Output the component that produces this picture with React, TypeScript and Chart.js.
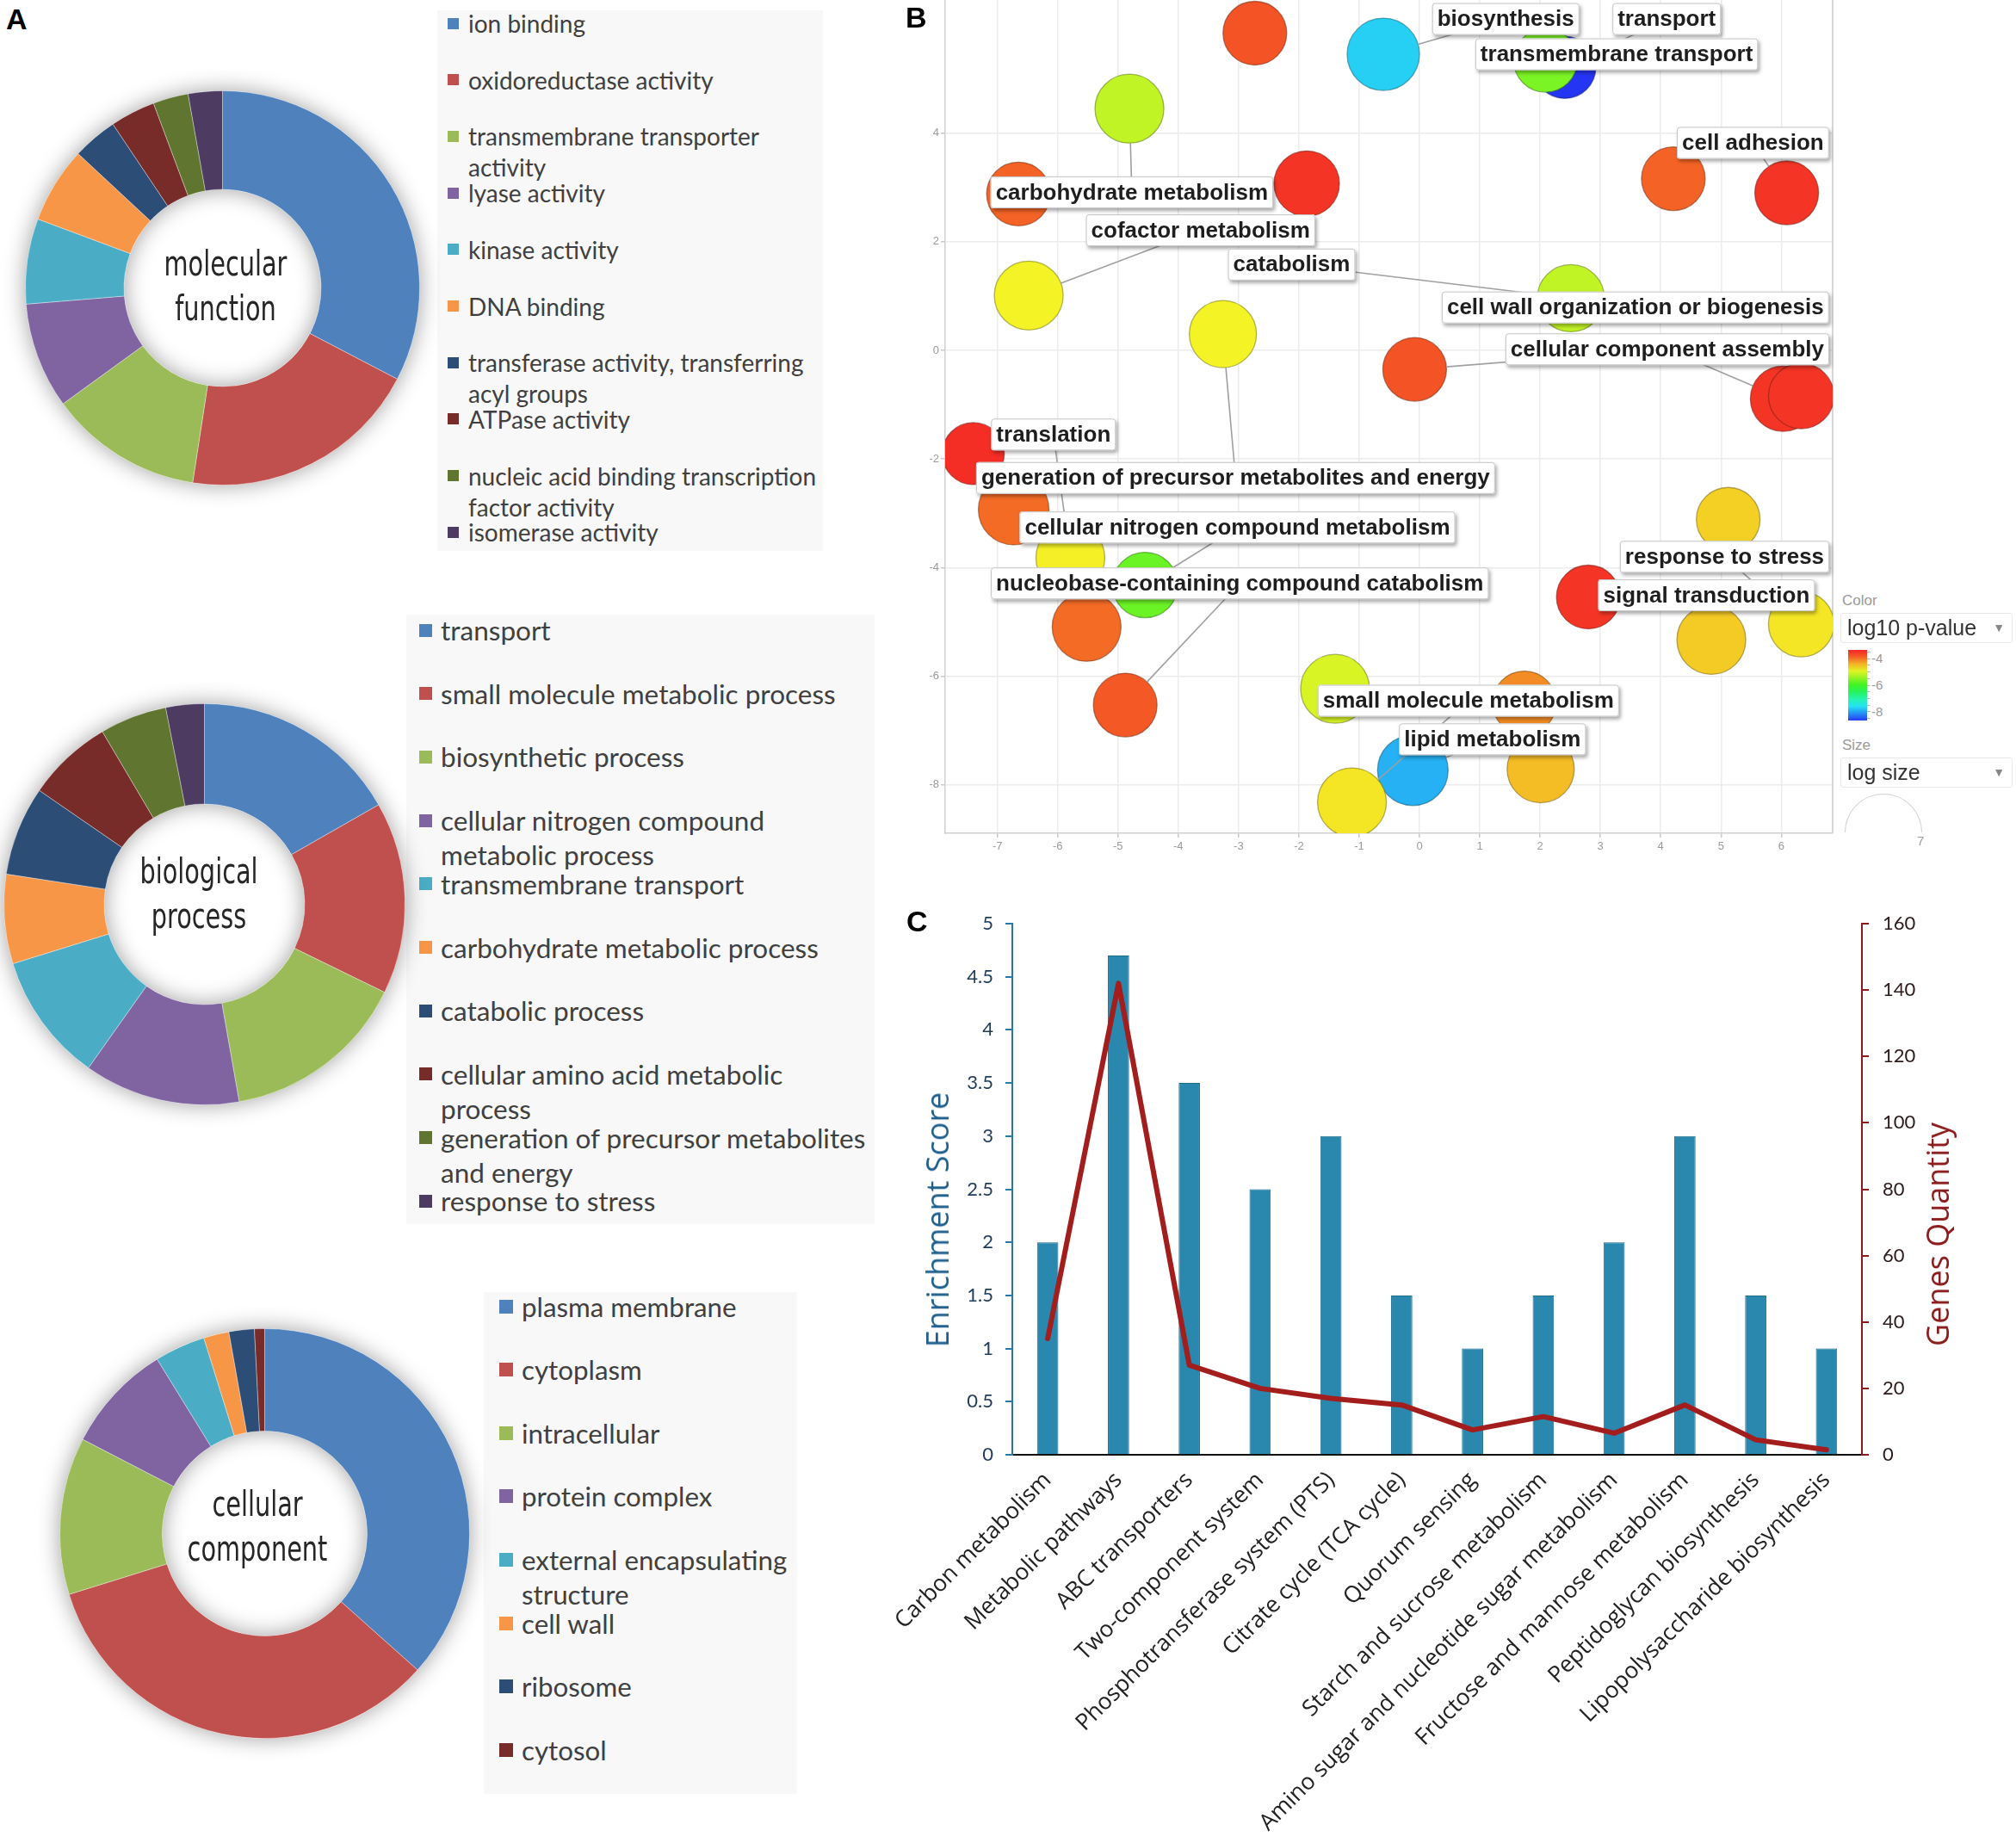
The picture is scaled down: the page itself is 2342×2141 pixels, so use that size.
import React, { useEffect, useRef } from 'react';
import { Chart, registerables } from 'chart.js';

Chart.register(...registerables);

// ---------------- Panel A data ----------------
const officeColors = ['#4f81bd', '#c0504d', '#9bbb59', '#8064a2', '#4bacc6', '#f79646', '#2c4d75', '#772c2a', '#5f7530', '#4d3b62'];

const mfCategories = [
  'ion binding',
  'oxidoreductase activity',
  'transmembrane transporter\nactivity',
  'lyase activity',
  'kinase activity',
  'DNA binding',
  'transferase activity, transferring\nacyl groups',
  'ATPase activity',
  'nucleic acid binding transcription\nfactor activity',
  'isomerase activity',
];
const mfValues = [32.7, 19.8, 12.6, 8.7, 7.0, 6.25, 3.7, 3.7, 2.9, 2.8];

const bpCategories = [
  'transport',
  'small molecule metabolic process',
  'biosynthetic process',
  'cellular nitrogen compound\nmetabolic process',
  'transmembrane transport',
  'carbohydrate metabolic process',
  'catabolic process',
  'cellular amino acid metabolic\nprocess',
  'generation of precursor metabolites\nand energy',
  'response to stress',
];
const bpValues = [16.75, 15.5, 15.0, 12.6, 10.4, 7.2, 7.2, 6.9, 5.4, 3.1];

const ccCategories = [
  'plasma membrane',
  'cytoplasm',
  'intracellular',
  'protein complex',
  'external encapsulating\nstructure',
  'cell wall',
  'ribosome',
  'cytosol',
];
const ccValues = [36.6, 33.6, 12.4, 8.6, 4.0, 2.0, 2.0, 0.8];

// ---------------- Panel B data ----------------
const goX = [-2.73, -0.6, 2.41, 2.09, -4.81, -6.65, -1.87, 4.21, 6.09, -6.48, -3.26, 2.51, -0.08, 6.03, 6.33, -7.4, -6.73, -5.79, -4.55, -5.52, -4.88, -1.4, 1.74, 2.01, -0.11, -1.12, 5.12, 2.8, 4.84, 6.33];
const goY = [5.84, 5.45, 5.21, 5.34, 4.45, 2.88, 3.07, 3.16, 2.9, 1.01, 0.3, 0.96, -0.35, -0.89, -0.84, -1.9, -2.93, -3.82, -4.32, -5.09, -6.53, -6.23, -6.49, -7.71, -7.73, -8.32, -3.11, -4.54, -5.33, -5.04];
const goSize = [37, 42, 36, 37, 40, 37, 38, 37, 37, 40, 39, 39, 37, 38, 38, 36, 41, 40, 38, 40, 37, 40, 37, 39, 41, 40, 37, 37, 40, 38];
const goLogP = [-3.8, -7.7, -8.7, -5.6, -5.15, -3.9, -3.6, -3.9, -3.6, -4.82, -4.82, -5.15, -3.8, -3.6, -3.6, -3.55, -3.95, -4.8, -5.7, -3.95, -3.83, -5.0, -4.16, -4.47, -7.9, -4.74, -4.6, -3.6, -4.56, -4.74];

const goLabels = [
  'biosynthesis',
  'transport',
  'transmembrane transport',
  'cell adhesion',
  'carbohydrate metabolism',
  'cofactor metabolism',
  'catabolism',
  'cell wall organization or biogenesis',
  'cellular component assembly',
  'translation',
  'generation of precursor metabolites and energy',
  'cellular nitrogen compound metabolism',
  'nucleobase-containing compound catabolism',
  'response to stress',
  'signal transduction',
  'small molecule metabolism',
  'lipid metabolism',
];
const goLabelX = [1.43, 4.1, 3.27, 5.53, -4.77, -3.63, -2.12, 3.58, 4.11, -6.07, -3.05, -3.02, -2.98, 5.06, 4.76, 0.81, 1.21];
const goLabelY = [6.1, 6.1, 5.45, 3.82, 2.91, 2.21, 1.58, 0.79, 0.02, -1.55, -2.35, -3.26, -4.29, -3.8, -4.51, -6.45, -7.16];
const goLabelTargets = [[1], [2], [3], [8], [4], [9], [11], [11], [12, 13], [17], [10], [18], [20], [29], [27], [25], [24]];
const goXTicks = [-7, -6, -5, -4, -3, -2, -1, 0, 1, 2, 3, 4, 5, 6];
const goYTicks = [-8, -6, -4, -2, 0, 2, 4];
const colorBarTicks = [-4, -6, -8];

// ---------------- Panel C data ----------------
const keggPathways = [
  'Carbon metabolism',
  'Metabolic pathways',
  'ABC transporters',
  'Two-component system',
  'Phosphotransferase system (PTS)',
  'Citrate cycle (TCA cycle)',
  'Quorum sensing',
  'Starch and sucrose metabolism',
  'Amino sugar and nucleotide sugar metabolism',
  'Fructose and mannose metabolism',
  'Peptidoglycan biosynthesis',
  'Lipopolysaccharide biosynthesis',
];
const enrichmentScore = [2, 4.7, 3.5, 2.5, 3, 1.5, 1, 1.5, 2, 3, 1.5, 1];
const genesQuantity = [35, 142, 27, 20, 17, 15, 7.5, 11.5, 6.5, 15, 4.5, 1.5];

// ---------------- helpers ----------------
const hueFor = (v: number) => Math.max(0, Math.min(240, ((-3.5 - v) / 5.3) * 240));
const fillFor = (v: number) => `hsl(${hueFor(v)}, 90%, 55%)`;
const edgeFor = (v: number) => `hsla(${hueFor(v)}, 70%, 30%, 0.6)`;

const ringShadow = {
  id: 'ringShadow',
  beforeDatasetsDraw(chart: any) {
    const arc = chart.getDatasetMeta(0).data[0];
    if (!arc) return;
    const { x, y, outerRadius, innerRadius } = arc.getProps(['x', 'y', 'outerRadius', 'innerRadius'], true);
    const ctx = chart.ctx;
    ctx.save();
    ctx.shadowColor = 'rgba(0,0,0,0.38)';
    ctx.shadowBlur = 26;
    ctx.fillStyle = '#ffffff';
    ctx.beginPath();
    ctx.arc(x, y, outerRadius, 0, Math.PI * 2);
    ctx.arc(x, y, innerRadius, 0, Math.PI * 2, true);
    ctx.fill();
    ctx.restore();
  },
};

function Donut({ cx, cy, r, values, labels }: any) {
  const ref = useRef<HTMLCanvasElement>(null);
  const pad = 25;
  const size = Math.round(2 * r + 2 * pad + 1);
  useEffect(() => {
    const chart = new Chart(ref.current as HTMLCanvasElement, {
      type: 'doughnut',
      data: {
        labels,
        datasets: [{ data: values, backgroundColor: officeColors.slice(0, values.length), borderWidth: 1, borderColor: 'rgba(255,255,255,0.35)' }],
      },
      options: {
        responsive: false,
        animation: false,
        cutout: '50%',
        layout: { padding: pad, autoPadding: false },
        plugins: { legend: { display: false }, tooltip: { enabled: false } },
      },
      plugins: [ringShadow],
    } as any);
    return () => chart.destroy();
  }, []);
  return (
    <canvas
      ref={ref}
      width={size}
      height={size}
      style={{ position: 'absolute', left: cx - size / 2, top: cy - size / 2, width: size, height: size }}
    />
  );
}

function CenterText({ cx, cy, text }: any) {
  return (
    <div
      style={{
        position: 'absolute',
        left: cx - 150,
        top: cy - 52,
        width: 300,
        textAlign: 'center',
        fontFamily: "'DejaVu Sans Condensed', 'DejaVu Sans', sans-serif",
        fontStretch: 'condensed',
        fontSize: 41,
        lineHeight: '52px',
        color: '#262626',
        whiteSpace: 'pre',
        transform: 'scaleX(0.78)',
      }}
    >
      {text}
    </div>
  );
}

function Legend({ categories, markerX, textX, y0, pitch, lineH, fontSize, markerSize, box }: any) {
  return (
    <>
      <div style={{ position: 'absolute', left: box[0], top: box[1], width: box[2] - box[0], height: box[3] - box[1], background: '#f8f8f8' }} />
      {categories.map((c: string, i: number) => {
        const yc = y0 + i * pitch;
        return (
          <React.Fragment key={i}>
            <div style={{ position: 'absolute', left: markerX, top: yc - markerSize / 2, width: markerSize, height: markerSize, background: officeColors[i] }} />
            <div
              style={{
                position: 'absolute',
                left: textX,
                top: yc - lineH / 2,
                fontSize,
                lineHeight: lineH + 'px',
                whiteSpace: 'pre',
                color: '#404040',
                fontFamily: 'Lato, sans-serif',
              }}
            >
              {c}
            </div>
          </React.Fragment>
        );
      })}
    </>
  );
}

const goAnnotations = {
  id: 'goAnnotations',
  beforeDatasetsDraw(chart: any) {
    const { ctx, chartArea } = chart;
    ctx.save();
    ctx.strokeStyle = '#d6d6d6';
    ctx.lineWidth = 2;
    ctx.beginPath();
    ctx.moveTo(chartArea.right, chartArea.top);
    ctx.lineTo(chartArea.right, chartArea.bottom);
    ctx.stroke();
    ctx.restore();
  },
  afterDatasetsDraw(chart: any) {
    const { ctx } = chart;
    const xs = chart.scales.x;
    const ys = chart.scales.y;
    ctx.save();
    ctx.strokeStyle = '#a0a0a0';
    ctx.lineWidth = 1.6;
    goLabels.forEach((_, i) => {
      const lx = xs.getPixelForValue(goLabelX[i]);
      const ly = ys.getPixelForValue(goLabelY[i]);
      goLabelTargets[i].forEach((b) => {
        const bx = xs.getPixelForValue(goX[b]);
        const by = ys.getPixelForValue(goY[b]);
        const d = Math.hypot(bx - lx, by - ly);
        const r = goSize[b];
        if (d <= r) return;
        const ex = bx - ((bx - lx) * r) / d;
        const ey = by - ((by - ly) * r) / d;
        ctx.beginPath();
        ctx.moveTo(lx, ly);
        ctx.lineTo(ex, ey);
        ctx.stroke();
      });
    });
    ctx.font = 'bold 26px "Liberation Sans", Arial, sans-serif';
    ctx.textAlign = 'center';
    ctx.textBaseline = 'middle';
    goLabels.forEach((lab, i) => {
      const lx = xs.getPixelForValue(goLabelX[i]);
      const ly = ys.getPixelForValue(goLabelY[i]);
      const w = ctx.measureText(lab).width + 12;
      const h = 37;
      const bx = lx - w / 2;
      const by = ly - h / 2;
      ctx.save();
      ctx.shadowColor = 'rgba(0,0,0,0.35)';
      ctx.shadowBlur = 4;
      ctx.shadowOffsetX = 2;
      ctx.shadowOffsetY = 3;
      ctx.fillStyle = '#ffffff';
      ctx.beginPath();
      ctx.roundRect(bx, by, w, h, 3);
      ctx.fill();
      ctx.restore();
      ctx.strokeStyle = '#c4c4c4';
      ctx.lineWidth = 1;
      ctx.beginPath();
      ctx.roundRect(bx + 0.5, by + 0.5, w - 1, h - 1, 3);
      ctx.stroke();
      ctx.fillStyle = '#1e1e1e';
      ctx.fillText(lab, lx, ly + 1);
    });
    ctx.restore();
  },
};

function BubblePanel() {
  const ref = useRef<HTMLCanvasElement>(null);
  useEffect(() => {
    const tickFont = { family: "'Liberation Sans', Arial, sans-serif", size: 13 };
    const chart = new Chart(ref.current as HTMLCanvasElement, {
      type: 'bubble',
      data: {
        datasets: [
          {
            data: goX.map((x, i) => ({ x, y: goY[i], r: goSize[i] })),
            backgroundColor: goLogP.map(fillFor),
            borderColor: goLogP.map(edgeFor),
            borderWidth: 1.3,
            clip: 0,
          },
        ],
      },
      options: {
        responsive: false,
        animation: false,
        layout: { padding: { top: 0, right: 11, left: 0, bottom: 0 }, autoPadding: false },
        plugins: { legend: { display: false }, tooltip: { enabled: false } },
        scales: {
          x: {
            type: 'linear',
            min: -7.866,
            max: 6.852,
            afterBuildTicks: (s: any) => {
              s.ticks = goXTicks.map((value) => ({ value }));
            },
            grid: { color: '#ececec', lineWidth: 1.5, tickLength: 5, tickColor: '#c8c8c8' },
            border: { color: '#cfcfcf', width: 1.5 },
            ticks: { color: '#9a9a9a', font: tickFont, padding: 3, maxRotation: 0 },
            afterFit: (s: any) => {
              s.height = 32;
              s.paddingLeft = 0;
              s.paddingRight = 0;
            },
          },
          y: {
            type: 'linear',
            min: -8.89,
            max: 6.45,
            afterBuildTicks: (s: any) => {
              s.ticks = goYTicks.map((value) => ({ value }));
            },
            grid: { color: '#ececec', lineWidth: 1.5, tickLength: 5, tickColor: '#c8c8c8' },
            border: { color: '#cfcfcf', width: 1.5 },
            ticks: { color: '#9a9a9a', font: tickFont, padding: 2 },
            afterFit: (s: any) => {
              s.width = 58;
              s.paddingTop = 0;
              s.paddingBottom = 0;
            },
          },
        },
      },
      plugins: [goAnnotations],
    } as any);
    return () => chart.destroy();
  }, []);
  return <canvas ref={ref} width={1100} height={1000} style={{ position: 'absolute', left: 1040, top: 0, width: 1100, height: 1000 }} />;
}

function BubbleLegend() {
  const barTop = 755;
  const barH = 82;
  const vTop = -3.35;
  const vBot = -8.65;
  const yFor = (v: number) => barTop + ((vTop - v) / (vTop - vBot)) * barH;
  const stops = [0, 0.1, 0.2, 0.3, 0.4, 0.5, 0.6, 0.7, 0.8, 0.9, 1]
    .map((t) => `${fillFor(vTop + (vBot - vTop) * t)} ${t * 100}%`)
    .join(', ');
  const minor = [-3.5, -4, -4.5, -5, -5.5, -6, -6.5, -7, -7.5, -8, -8.5];
  const small = { position: 'absolute' as const, fontFamily: "'Liberation Sans', Arial, sans-serif", color: '#9a9a9a' };
  const boxStyle = {
    position: 'absolute' as const,
    left: 2138,
    width: 200,
    height: 35,
    background: '#fff',
    border: '1px solid #e8e8e8',
    borderRadius: 3,
    boxSizing: 'border-box' as const,
  };
  const boxText = { position: 'absolute' as const, left: 7, top: 0, lineHeight: '33px', fontSize: 25, color: '#333', fontFamily: "'Liberation Sans', Arial, sans-serif" };
  const arrow = { position: 'absolute' as const, right: 8, top: 0, lineHeight: '33px', fontSize: 14, color: '#888' };
  return (
    <>
      <div style={{ ...small, left: 2140, top: 688, fontSize: 17 }}>Color</div>
      <div style={{ ...boxStyle, top: 712 }}>
        <div style={boxText}>log10 p-value</div>
        <div style={arrow}>▼</div>
      </div>
      <div style={{ position: 'absolute', left: 2147, top: barTop, width: 22, height: barH, background: `linear-gradient(to bottom, ${stops})` }} />
      {minor.map((v, i) => (
        <div key={i} style={{ position: 'absolute', left: 2169, top: yFor(v) - 0.5, width: 4, height: 1, background: '#bbb' }} />
      ))}
      {colorBarTicks.map((v, i) => (
        <div key={i} style={{ ...small, left: 2174, top: yFor(v) - 9, fontSize: 15, lineHeight: '18px' }}>
          {String(v)}
        </div>
      ))}
      <div style={{ ...small, left: 2140, top: 856, fontSize: 17 }}>Size</div>
      <div style={{ ...boxStyle, top: 880 }}>
        <div style={boxText}>log size</div>
        <div style={arrow}>▼</div>
      </div>
      <div
        style={{
          position: 'absolute',
          left: 2143,
          top: 922,
          width: 90,
          height: 45,
          boxSizing: 'border-box',
          border: '1.5px solid #d4d4d4',
          borderBottom: 'none',
          borderTopLeftRadius: 45,
          borderTopRightRadius: 45,
        }}
      />
      <div style={{ ...small, left: 2227, top: 968, fontSize: 15 }}>7</div>
    </>
  );
}

function KeggPanel() {
  const ref = useRef<HTMLCanvasElement>(null);
  useEffect(() => {
    const chart = new Chart(ref.current as HTMLCanvasElement, {
      type: 'bar',
      data: {
        labels: keggPathways,
        datasets: [
          {
            type: 'line',
            data: genesQuantity,
            yAxisID: 'y1',
            borderColor: '#a31d1d',
            borderWidth: 6,
            pointRadius: 0,
            tension: 0,
            borderJoinStyle: 'round',
            borderCapStyle: 'round',
            order: 0,
          },
          {
            type: 'bar',
            data: enrichmentScore,
            yAxisID: 'y',
            backgroundColor: '#2a87ad',
            borderColor: '#1d6d8f',
            borderWidth: 1,
            barPercentage: 0.3,
            categoryPercentage: 1,
            order: 1,
          },
        ],
      },
      options: {
        responsive: false,
        animation: false,
        layout: { padding: { top: 33, left: 0, right: 0, bottom: 0 }, autoPadding: false },
        plugins: { legend: { display: false }, tooltip: { enabled: false } },
        scales: {
          x: {
            type: 'category',
            offset: true,
            grid: { display: true, drawOnChartArea: false, drawTicks: false },
            border: { color: '#111', width: 2 },
            ticks: {
              autoSkip: false,
              maxRotation: 45,
              minRotation: 45,
              padding: 14,
              color: '#222',
              font: { family: "'Open Sans', sans-serif", size: 26.5 },
            },
            afterFit: (s: any) => {
              s.height = 451;
              s.paddingLeft = 0;
              s.paddingRight = 0;
            },
          },
          y: {
            position: 'left',
            min: 0,
            max: 5,
            ticks: {
              stepSize: 0.5,
              padding: 14,
              color: '#1f3b5c',
              font: { family: 'Lato, sans-serif', size: 22 },
              callback: (v: any) => String(Number(v)),
            },
            grid: { drawOnChartArea: false, drawTicks: true, tickLength: 8, color: '#2a7aa8', lineWidth: 2 },
            border: { color: '#2a7aa8', width: 2 },
            afterFit: (s: any) => {
              s.width = 136;
              s.paddingTop = 0;
              s.paddingBottom = 0;
            },
          },
          y1: {
            position: 'right',
            min: 0,
            max: 160,
            ticks: {
              stepSize: 20,
              padding: 16,
              color: '#2d1a1a',
              font: { family: 'Lato, sans-serif', size: 22 },
              callback: (v: any) => String(Number(v)),
            },
            grid: { drawOnChartArea: false, drawTicks: true, tickLength: 8, color: '#8b1a1a', lineWidth: 2 },
            border: { color: '#8b1a1a', width: 2 },
            afterFit: (s: any) => {
              s.width = 179;
              s.paddingTop = 0;
              s.paddingBottom = 0;
            },
          },
        },
      },
    } as any);
    return () => chart.destroy();
  }, []);
  return <canvas ref={ref} width={1302} height={1101} style={{ position: 'absolute', left: 1040, top: 1040, width: 1302, height: 1101 }} />;
}

function PanelLetter({ x, y, text }: any) {
  return (
    <div
      style={{
        position: 'absolute',
        left: x,
        top: y,
        fontFamily: "'Liberation Sans', Arial, sans-serif",
        fontWeight: 'bold',
        fontSize: 34,
        lineHeight: '34px',
        color: '#000',
      }}
    >
      {text}
    </div>
  );
}

function AxisTitle({ cx, cy, text, color }: any) {
  return (
    <div
      style={{
        position: 'absolute',
        left: cx,
        top: cy,
        transform: 'translate(-50%, -50%) rotate(-90deg)',
        whiteSpace: 'nowrap',
        fontFamily: "'Open Sans', sans-serif",
        fontSize: 36,
        lineHeight: '44px',
        color,
      }}
    >
      {text}
    </div>
  );
}

export default function App() {
  return (
    <div style={{ position: 'absolute', left: 0, top: 0, width: 2342, height: 2141, background: '#ffffff', overflow: 'hidden' }}>
      {/* Panel A legends (backgrounds first) */}
      <Legend categories={mfCategories} box={[508, 12, 956, 640]} markerX={520} markerSize={13} textX={544} y0={27} pitch={65.7} lineH={36} fontSize={28} />
      <Legend categories={bpCategories} box={[472, 714, 1016, 1422]} markerX={487} markerSize={15} textX={512} y0={732} pitch={73.7} lineH={40} fontSize={31.5} />
      <Legend categories={ccCategories} box={[562, 1501, 926, 2084]} markerX={580} markerSize={16} textX={606} y0={1517.5} pitch={73.6} lineH={40} fontSize={31.3} />

      <Donut cx={258} cy={334.5} r={229} values={mfValues} labels={mfCategories} />
      <Donut cx={237} cy={1050.5} r={233} values={bpValues} labels={bpCategories} />
      <Donut cx={307.5} cy={1781.5} r={238} values={ccValues} labels={ccCategories} />

      <CenterText cx={262} cy={332} text={'molecular\nfunction'} />
      <CenterText cx={231} cy={1038} text={'biological\nprocess'} />
      <CenterText cx={299} cy={1773} text={'cellular\ncomponent'} />

      <BubblePanel />
      <BubbleLegend />

      <KeggPanel />
      <AxisTitle cx={1089} cy={1417} text="Enrichment Score" color="#1f5f8e" />
      <AxisTitle cx={2251} cy={1434} text="Genes Quantity" color="#8b1c1c" />

      <PanelLetter x={7} y={5} text="A" />
      <PanelLetter x={1052} y={3} text="B" />
      <PanelLetter x={1053} y={1053} text="C" />
    </div>
  );
}
